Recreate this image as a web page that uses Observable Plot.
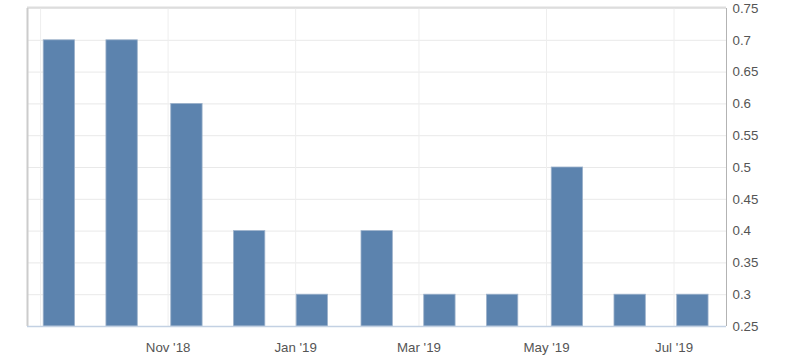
<!DOCTYPE html>
<html>
<head>
<meta charset="utf-8">
<script src="https://cdn.jsdelivr.net/npm/d3@7"></script>
<script src="https://cdn.jsdelivr.net/npm/@observablehq/plot@0.6"></script>
<style>
  html, body { margin: 0; padding: 0; background: #fff; }
  #chart svg { display: block; }
</style>
</head>
<body>
<div id="chart"></div>
<script>
// Data
const releaseDates = ["2018-09-10","2018-10-10","2018-11-10","2018-12-10","2019-01-09","2019-02-09","2019-03-11","2019-04-10","2019-05-11","2019-06-10","2019-07-10"];
const values = [0.7, 0.7, 0.6, 0.4, 0.3, 0.4, 0.3, 0.3, 0.5, 0.3, 0.3];
const xGridDates = ["2018-09-01","2018-11-01","2019-01-01","2019-03-01","2019-05-01","2019-07-01"];
const xTickLabels = ["", "Nov '18", "Jan '19", "Mar '19", "May '19", "Jul '19"];
const yTicks = [0.25, 0.3, 0.35, 0.4, 0.45, 0.5, 0.55, 0.6, 0.65, 0.7, 0.75];
const xDomain = ["2018-08-25T18:00:00Z", "2019-07-26T02:00:00Z"];

const barHalfWidthHours = 180; // 7.5 days on each side

const data = releaseDates.map((d, i) => {
  const date = new Date(d + "T00:00:00Z");
  return {
    x1: d3.utcHour.offset(date, -barHalfWidthHours),
    x2: d3.utcHour.offset(date, barHalfWidthHours),
    value: values[i]
  };
});
const gridDates = xGridDates.map(d => new Date(d + "T00:00:00Z"));
const domainDates = xDomain.map(d => new Date(d));

const chart = Plot.plot({
  width: 800,
  height: 361,
  marginTop: 8,
  marginBottom: 35,
  marginLeft: 27,
  marginRight: 74,
  style: { fontFamily: "'Liberation Sans', Arial, sans-serif", fontSize: "13.3px", color: "#555", background: "#fff" },
  x: { type: "utc", domain: domainDates, label: null },
  y: { domain: [yTicks[0], yTicks[yTicks.length - 1]], label: null },
  marks: [
    Plot.gridY(yTicks, { stroke: "#e9e9e9", strokeOpacity: 1 }),
    Plot.gridX(gridDates, { stroke: "#eeeeee", strokeOpacity: 1 }),
    Plot.rect(data, {
      x1: "x1", x2: "x2",
      y1: () => yTicks[0], y2: "value",
      fill: "#5c83ae",
      stroke: "#9db2cb",
      strokeWidth: 0.8
    }),
    Plot.ruleY([yTicks[yTicks.length - 1]], { stroke: "#dddddd", strokeWidth: 2, dy: -1 }),
    Plot.ruleX([domainDates[0]], { stroke: "#cccccc", strokeWidth: 2 }),
    Plot.ruleX([domainDates[1]], { stroke: "#b3b3b3", strokeWidth: 1 }),
    Plot.ruleY([yTicks[0]], { stroke: "#c3d1e3", strokeWidth: 1.5 }),
    Plot.axisX(gridDates, {
      label: null,
      tickSize: 0,
      tickPadding: 16,
      tickFormat: (d, i) => xTickLabels[i],
      fill: "#555"
    }),
    Plot.axisY(yTicks, {
      label: null,
      anchor: "right",
      tickSize: 0,
      tickPadding: 6,
      tickFormat: d => String(+d.toFixed(2)),
      fill: "#555"
    })
  ]
});
document.getElementById("chart").appendChild(chart);
</script>
</body>
</html>
